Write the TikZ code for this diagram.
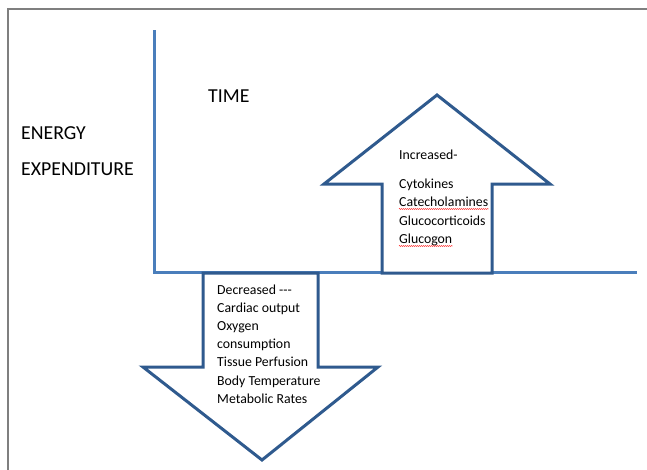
\documentclass[tikz,border=0pt]{standalone}
\usepackage{fontspec}
\setmainfont{Carlito}
\usetikzlibrary{positioning,decorations.pathmorphing}

\definecolor{axisblue}{HTML}{4A7EBB}
\definecolor{arrowblue}{HTML}{2F5A8E}
\definecolor{framegray}{HTML}{7F7F7F}

\begin{document}
\begin{tikzpicture}[
  x=1pt, y=-1pt,
  axis/.style={draw=axisblue, line width=3pt},
  bigarrow/.style={draw=arrowblue, line width=3pt, fill=white, line join=miter},
  big/.style={font=\fontsize{19.8}{22}\selectfont, inner sep=0pt, anchor=base west},
  item/.style={font=\fontsize{13.8}{16}\selectfont, inner sep=0pt, anchor=base west},
  squiggle/.style={draw=red, line width=0.5pt, decorate,
    decoration={snake, amplitude=0.5pt, segment length=2pt}}
]
\useasboundingbox (0,0) rectangle (647,469);

% frame
\draw[framegray, line width=1.5pt] (8,500) |- (700,9);

% axes
\coordinate (O) at (154,272);
\coordinate (Ytop) at (154,30);
\coordinate (Xend) at (637,272);
\draw[axis] (Ytop) -- (O) -- (Xend);

\node[big] (energy) at (21,139) {ENERGY};
\node[big] (expend) at (21,175) {EXPENDITURE};
\node[big] (time) at (208,102) {TIME};

% up arrow
\draw[bigarrow] (382,273) -- (382,184) -- (324,184) -- (437,95) -- (550,184)
  -- (492,184) -- (492,273) -- cycle;

\node[item] (inc) at (399,159) {Increased-};
\foreach \txt [count=\i] in {Cytokines, Catecholamines, Glucocorticoids, Glucogon}
  \node[item] (up\i) at (399,{188+18.5*(\i-1)}) {\txt};
\draw[squiggle] ([yshift=-2.5pt]up2.base west) -- ([yshift=-2.5pt]up2.base east);
\draw[squiggle] ([yshift=-2.5pt]up4.base west) -- ([yshift=-2.5pt]up4.base east);

% down arrow
\draw[bigarrow] (203,273) -- (318,273) -- (318,367) -- (378,367) -- (262,460)
  -- (143,367) -- (203,367) -- cycle;

\foreach \txt [count=\i] in {Decreased {-}{-}{-}, Cardiac output, Oxygen, consumption,
    Tissue Perfusion, Body Temperature, Metabolic Rates}
  \node[item] (down\i) at (217,{294+18.2*(\i-1)}) {\txt};

\end{tikzpicture}
\end{document}
